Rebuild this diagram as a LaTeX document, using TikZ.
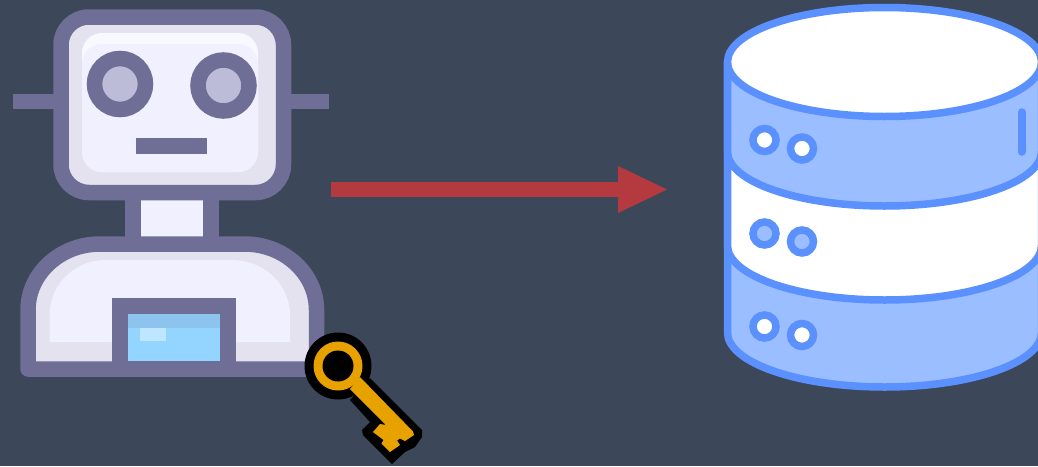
\documentclass[tikz,border=0pt]{standalone}
\usepackage{tikz}
\usetikzlibrary{arrows.meta}
\definecolor{slateBack}{HTML}{3C4859}
\definecolor{robotLine}{HTML}{6F6E96}
\definecolor{robotShade}{HTML}{E3E2EE}
\definecolor{robotFace}{HTML}{F1F0FE}
\definecolor{robotGlow}{HTML}{F8F8FF}
\definecolor{robotEye}{HTML}{BCBBD8}
\definecolor{cardSky}{HTML}{94D5FF}
\definecolor{cardStripe}{HTML}{8CC4EE}
\definecolor{cardGlow}{HTML}{BFE6FF}
\definecolor{keyGold}{HTML}{E8A200}
\definecolor{arrowRed}{HTML}{B53A3F}
\definecolor{dbLine}{HTML}{5B90FF}
\definecolor{dbBand}{HTML}{9ABEFF}

\begin{document}
\begin{tikzpicture}[
    x=1pt, y=-1pt,
    robotline/.style={draw=robotLine, line width=15.5pt},
    dbline/.style={draw=dbLine, line width=7.5pt, line join=round},
    dbdot/.style={draw=dbLine, line width=7.5pt},
    flow/.style={draw=arrowRed, line width=15pt,
                 -{Triangle[length=49pt, width=47pt, line width=0pt]}},
  ]
    \useasboundingbox (0,0) rectangle (1038,466);
    \clip (0,0) rectangle (1038,466);
    \fill[slateBack] (0,0) rectangle (1038,466);

    \fill[robotLine] (13,93.5) rectangle (60,109);
    \fill[robotLine] (285,93.5) rectangle (329,109);
    \draw[robotline, fill=robotFace] (133,190) rectangle (211,245);
    \draw[robotline, fill=robotShade, rounded corners=28pt] (61,17) rectangle (283.5,192.5);
    \fill[robotGlow, rounded corners=20pt] (82,33) rectangle (258,172);
    \fill[robotFace, rounded corners=20pt] (82,44) rectangle (258,172);
    \foreach \eyeX/\eyeY in {120/84, 223.5/85.5} {
      \draw[robotline, fill=robotEye] (\eyeX,\eyeY) circle[radius=25.5pt];
    }
    \fill[robotLine] (136,138) rectangle (207,154);

    \draw[robotline, fill=robotShade, line join=round] (28,369) -- (28,310)
      arc[start angle=180, end angle=90, x radius=72pt, y radius=66pt] -- (244.5,244)
      arc[start angle=90, end angle=0, x radius=72pt, y radius=66pt] -- (316.5,369) -- cycle;
    \fill[robotFace] (49.5,342) -- (49.5,315)
      arc[start angle=180, end angle=90, x radius=56pt, y radius=55pt] -- (232,260)
      arc[start angle=90, end angle=0, x radius=58pt, y radius=55pt] -- (290,342) -- cycle;
    \draw[robotline, fill=cardSky] (120,306) rectangle (228,369);
    \fill[cardStripe] (128,314) rectangle (220,328);
    \fill[cardGlow] (140,328) rectangle (166,341);

    \fill (338,366) circle[radius=33.5pt];
    \fill (370,378) -- (422,430) -- (422,437) -- (415,447) -- (405,452) -- (392,464)
      -- (363,435) -- (362,430) -- (370,422) -- (350,400) -- cycle;
    \fill[keyGold] (360,377) -- (413,431.5) -- (414,435) -- (405,441) -- (400,438.5)
      -- (397,440.5) -- (400,445) -- (390,452) -- (381.5,443.5) -- (383.5,440)
      -- (373,432) -- (380,424) -- (386,425) -- (350,389) -- cycle;
    \fill[keyGold] (338,366) circle[radius=24.5pt];
    \fill (338,366) circle[radius=15.5pt];

    \coordinate (flowStart) at (331,189.5);
    \coordinate (flowEnd) at (667,189.5);
    \draw[flow] (flowStart) -- (flowEnd);

    \foreach \bandY/\bandFill in {332.5/dbBand, 245.5/white, 151.5/dbBand} {
      \draw[dbline, fill=\bandFill] (727.5,62) -- (727.5,\bandY)
        arc[start angle=180, end angle=360, x radius=157pt, y radius=54.5pt]
        -- (1041.5,62) -- cycle;
    }
    \draw[dbline, fill=white] (884.5,62) ellipse[x radius=157pt, y radius=54.5pt];
    \foreach \dotX/\dotY/\dotFill in {764.5/140/white, 802/148.5/white,
                                      764.5/233.5/dbBand, 802/241.5/dbBand,
                                      764.5/326.5/white, 802/335/white} {
      \draw[dbdot, fill=\dotFill] (\dotX,\dotY) circle[radius=11.5pt];
    }
    \draw[draw=dbLine, line width=7.5pt, line cap=round] (1022,112) -- (1022,152);
  \end{tikzpicture}
\end{document}
